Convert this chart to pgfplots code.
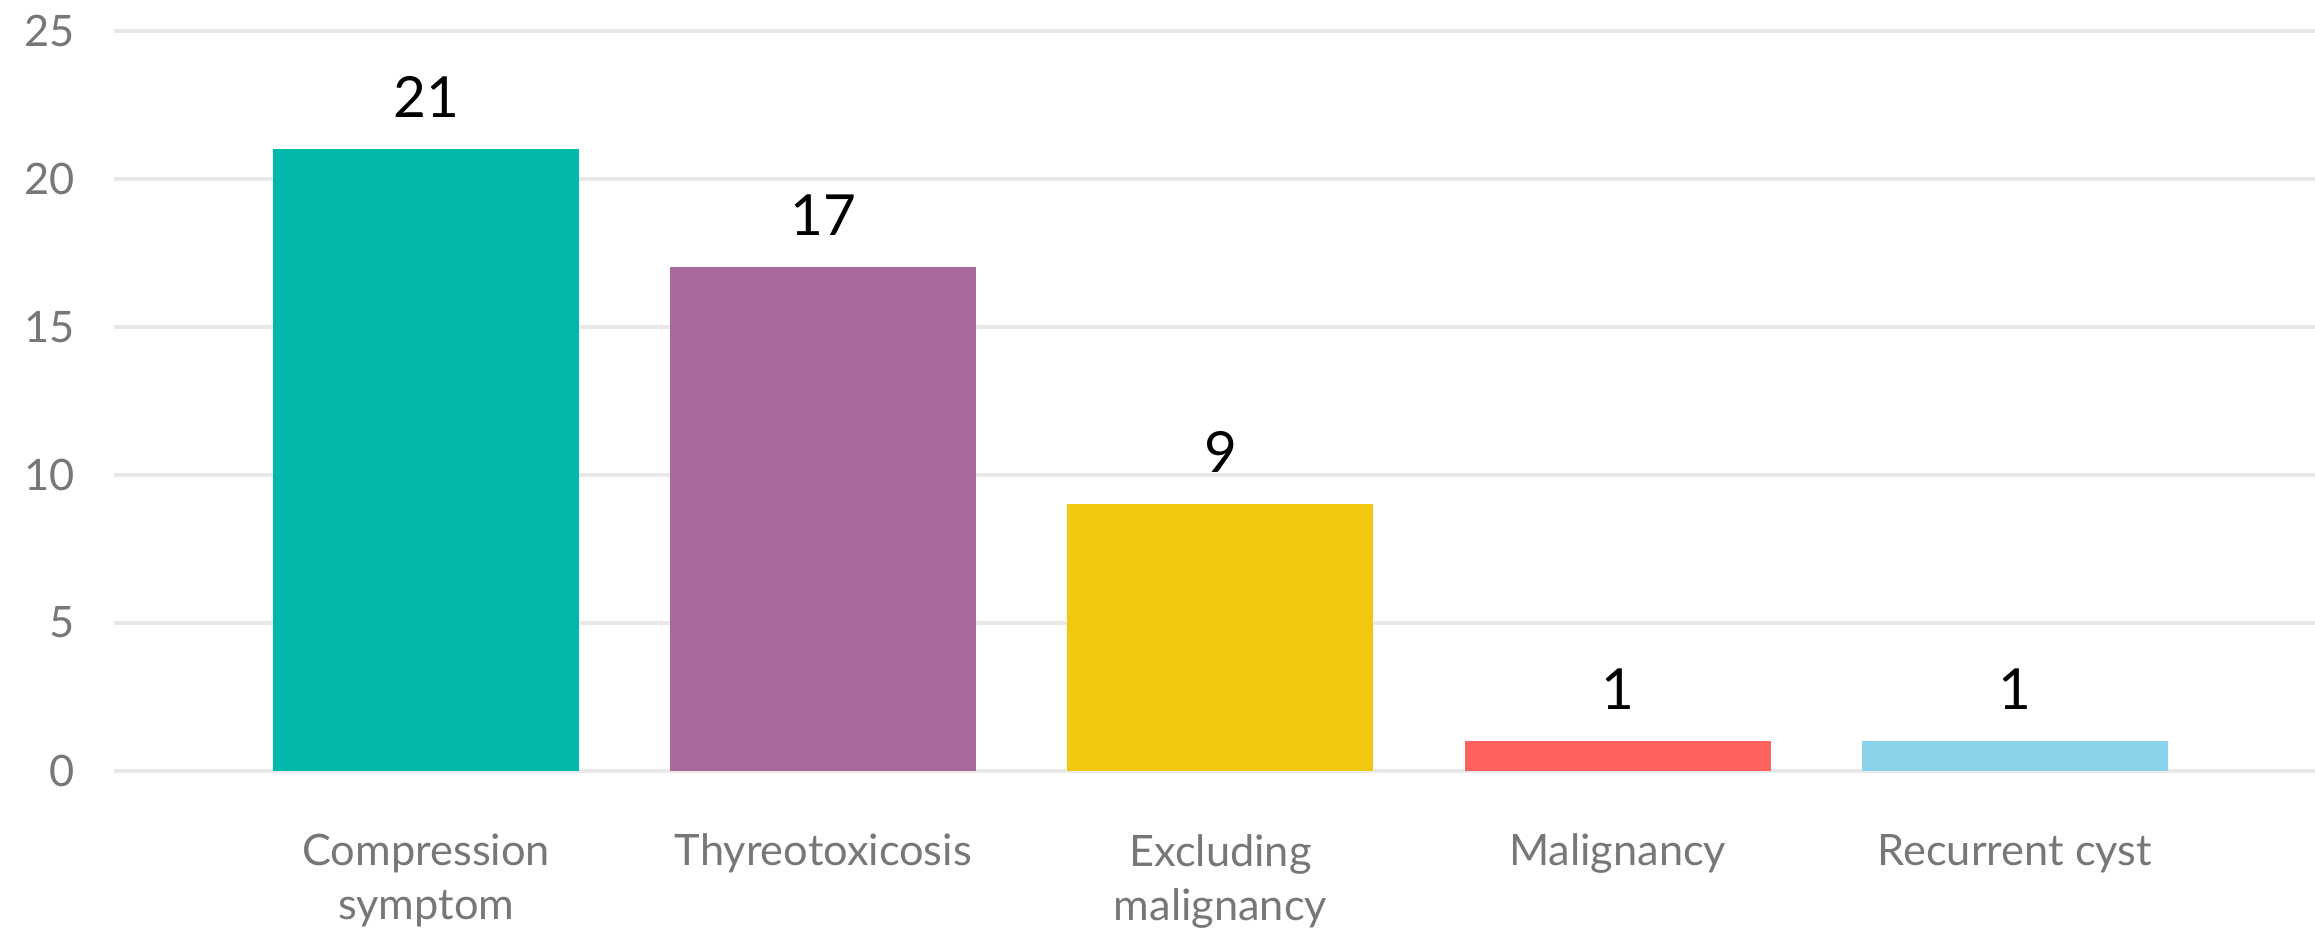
\documentclass[border=0pt]{standalone}
\usepackage{fontspec}
\setmainfont{Lato}
\usepackage{pgfplots}
\pgfplotsset{compat=1.18}
\definecolor{cA}{HTML}{01B8AA}
\definecolor{cB}{HTML}{A66999}
\definecolor{cC}{HTML}{F2C80F}
\definecolor{cD}{HTML}{FD625E}
\definecolor{cE}{HTML}{8AD4EB}
\definecolor{gridgray}{HTML}{E9E9E9}
\definecolor{labelgray}{HTML}{777777}
\begin{document}
\begin{tikzpicture}
\begin{axis}[
  name=ax,
  scale only axis,
  width=660.3pt, height=222pt,
  xmin=-0.786, xmax=4.756,
  ymin=0, ymax=25,
  ytick={0,5,10,15,20,25},
  xtick={0,1,2,3,4},
  xticklabels={{Compression\\symptom},{Thyreotoxicosis},{Excluding\\malignancy},{Malignancy},{Recurrent cyst}},
  axis line style={draw=none},
  major tick length=0pt,
  ymajorgrids,
  grid style={draw=gridgray, line width=1.2pt},
  /pgf/number format/assume math mode=true,
  tick label style={text=labelgray, font=\fontsize{13}{15}\selectfont},
  xticklabel style={align=center, yshift=-15.5pt, font=\fontsize{13}{16.2}\selectfont},
  yticklabel style={xshift=-8.3pt},
  ybar,
  bar width=91.8pt,
  nodes near coords,
  nodes near coords style={text=black, font=\fontsize{17}{20}\selectfont, anchor=center, yshift=15.6pt},
]
\addplot[fill=cA, draw=none, bar shift=0pt] coordinates {(0,21)};
\addplot[fill=cB, draw=none, bar shift=0pt] coordinates {(1,17)};
\addplot[fill=cC, draw=none, bar shift=0pt] coordinates {(2,9)};
\addplot[fill=cD, draw=none, bar shift=0pt] coordinates {(3,1)};
\addplot[fill=cE, draw=none, bar shift=0pt] coordinates {(4,1)};
\end{axis}
\pgfresetboundingbox
\path ([xshift=-34.2pt,yshift=-50.7pt]ax.south west) rectangle ([yshift=9.2pt]ax.north east);
\end{tikzpicture}
\end{document}
